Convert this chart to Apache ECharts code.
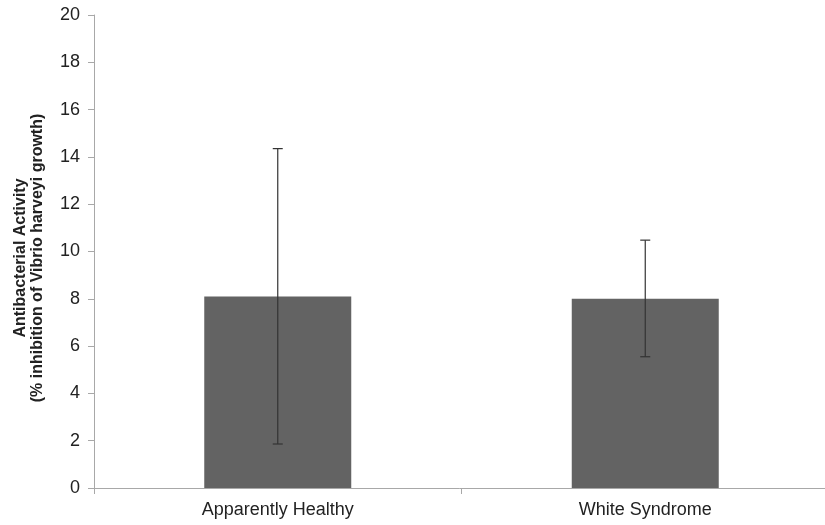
<!DOCTYPE html>
<html><head><meta charset="utf-8">
<script src="https://cdn.jsdelivr.net/npm/echarts@6/dist/echarts.min.js"></script>
<style>html,body{margin:0;padding:0;background:#fff}#c{width:825px;height:525px}</style>
</head><body><div id="c"></div>
<script>
var categories = ["Apparently Healthy", "White Syndrome"];
var means = [8.1, 8.0];
var errLow = [1.86, 5.55];
var errHigh = [14.35, 10.48];
var yTicks = {min: 0, max: 20, interval: 2};
var titleLines = ["Antibacterial Activity", "(% inhibition of Vibrio harveyi growth)"];

var chart = echarts.init(document.getElementById('c'));
var font = 'Liberation Sans, Arial, sans-serif';
chart.setOption({
  animation: false,
  grid: {left: 94, right: -4, top: 15, bottom: 37, containLabel: false, outerBoundsMode: 'none'},
  xAxis: {
    type: 'category', data: categories,
    axisLine: {lineStyle: {color: '#a8a8a8', width: 1}},
    axisTick: {show: true, length: 6, lineStyle: {color: '#a8a8a8'}},
    axisLabel: {color: '#222', fontSize: 18, fontFamily: font, margin: 13}
  },
  yAxis: {
    type: 'value', min: yTicks.min, max: yTicks.max, interval: yTicks.interval,
    axisLine: {show: true, lineStyle: {color: '#a8a8a8', width: 1}},
    axisTick: {show: true, length: 6, lineStyle: {color: '#a8a8a8'}},
    splitLine: {show: false},
    axisLabel: {color: '#222', fontSize: 18, fontFamily: font, margin: 14}
  },
  graphic: titleLines.map(function (t, i) {
    return {
      type: 'text', x: 21 + i * 17, y: 258, rotation: Math.PI / 2,
      style: {text: t, fill: '#222', font: 'bold 16px ' + font, align: 'center', verticalAlign: 'middle'}
    };
  }),
  series: [{
    type: 'bar', data: means, barWidth: '40%',
    itemStyle: {color: '#636363'}
  }, {
    type: 'custom',
    data: categories.map(function (c, i) { return [i, errLow[i], errHigh[i]]; }),
    renderItem: function (params, api) {
      var x = api.value(0);
      var lo = api.coord([x, api.value(1)]);
      var hi = api.coord([x, api.value(2)]);
      var hw = 5;
      var st = {stroke: '#333', lineWidth: 1.2};
      return {type: 'group', children: [
        {type: 'line', shape: {x1: lo[0], y1: lo[1], x2: hi[0], y2: hi[1]}, style: st},
        {type: 'line', shape: {x1: lo[0] - hw, y1: lo[1], x2: lo[0] + hw, y2: lo[1]}, style: st},
        {type: 'line', shape: {x1: hi[0] - hw, y1: hi[1], x2: hi[0] + hw, y2: hi[1]}, style: st}
      ]};
    },
    z: 10
  }]
});
</script></body></html>
